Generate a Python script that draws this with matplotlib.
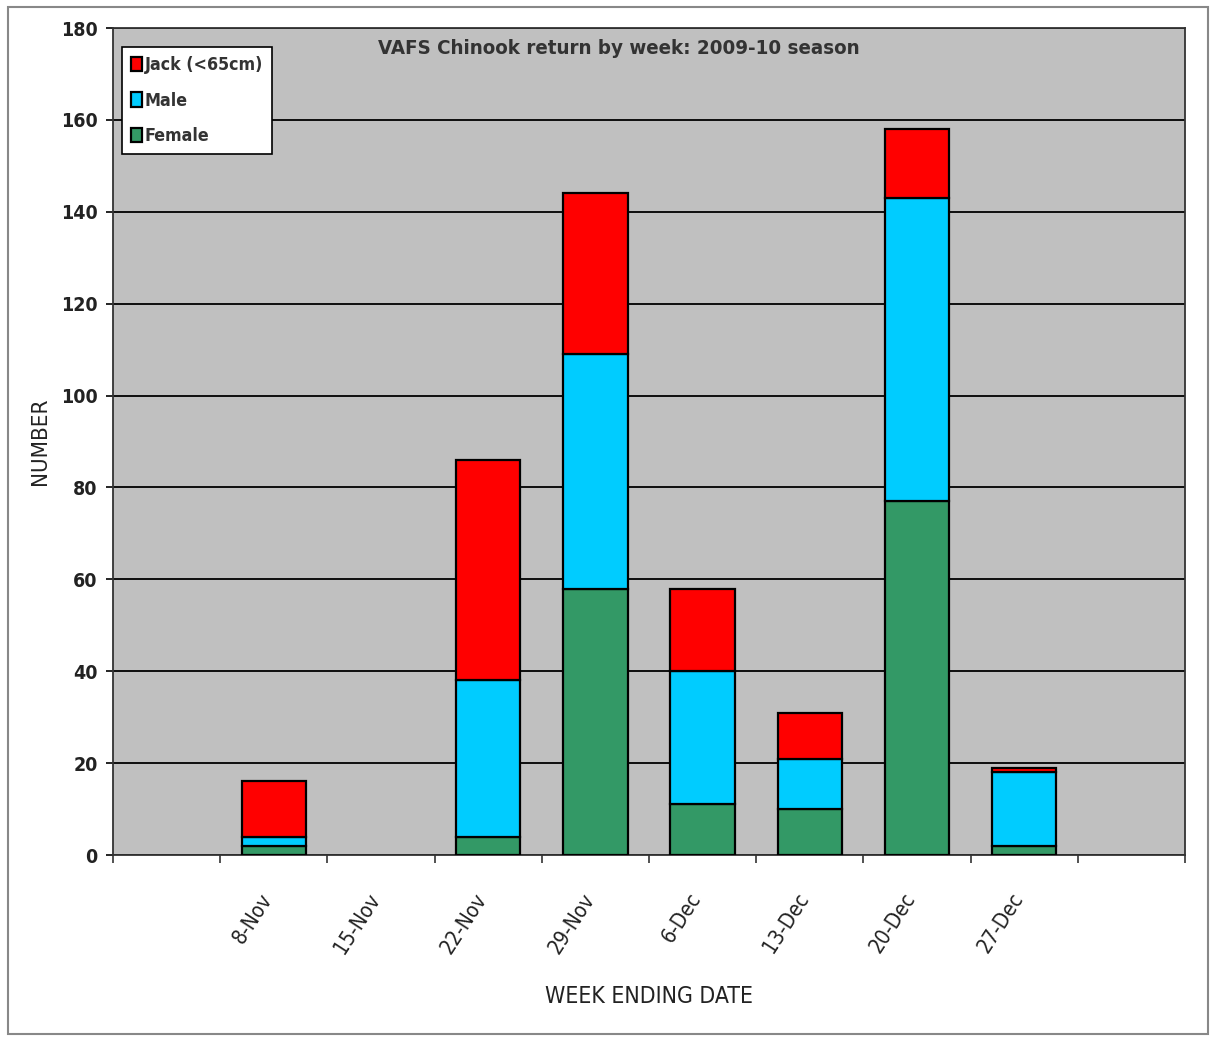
import matplotlib
matplotlib.use("Agg")
import matplotlib.pyplot as plt
from matplotlib.patches import Rectangle
from matplotlib.transforms import ScaledTranslation
import numpy as np

plt.rcParams['font.family'] = ['DejaVu Sans']
plt.rcParams['font.stretch'] = 'condensed'

weeks = ['', '8-Nov', '15-Nov', '22-Nov', '29-Nov', '6-Dec', '13-Dec', '20-Dec', '27-Dec', '']
female = [0, 2, 0, 4, 58, 11, 10, 77, 2, 0]
male = [0, 2, 0, 34, 51, 29, 11, 66, 16, 0]
jack = [0, 12, 0, 48, 35, 18, 10, 15, 1, 0]
y_ticks = [0, 20, 40, 60, 80, 100, 120, 140, 160, 180]

fig = plt.figure(figsize=(12.13, 10.38), dpi=100)
fig.patches.append(Rectangle((0.007, 0.004), 0.989, 0.989, transform=fig.transFigure,
                             fill=False, edgecolor='#888888', linewidth=1.5))
ax = fig.add_axes([0.0932, 0.1763, 0.8837, 0.7967])
ax.set_facecolor('#C0C0C0')

x = np.arange(len(weeks))
f = np.array(female)
m = np.array(male)
j = np.array(jack)
has = (f + m + j) > 0
kw = dict(width=0.6, edgecolor='black', linewidth=1.6, zorder=3)
ax.bar(x[has], f[has], color='#339966', label='Female', **kw)
ax.bar(x[has], m[has], bottom=f[has], color='#00CCFF', label='Male', **kw)
ax.bar(x[has], j[has], bottom=(f + m)[has], color='#FF0000', label='Jack (<65cm)', **kw)

ax.set_xlim(-0.5, len(weeks) - 0.5)
ax.set_ylim(0, 180)
ax.set_yticks(y_ticks)
ax.yaxis.grid(True, color='black', linewidth=1.3, zorder=0)
ax.set_axisbelow(True)

ax.set_xticks(x)
ax.set_xticklabels(weeks, rotation=57, ha='right', rotation_mode='anchor', fontsize=15,
                   color='#222222')
ax.tick_params(axis='x', which='major', length=0, pad=27)
ax.set_xticks(np.arange(-0.5, len(weeks)), minor=True)
ax.tick_params(axis='x', which='minor', length=6, width=1.2, color='#333333', direction='out')
ax.tick_params(axis='y', labelsize=14, length=5, width=1.2, direction='out', labelcolor='#222222',
               pad=6)
for t in ax.get_yticklabels():
    t.set_fontweight('bold')

for s in ax.spines.values():
    s.set_color('#333333')
    s.set_linewidth(1.3)

ax.text(0.472, 0.987, 'VAFS Chinook return by week: 2009-10 season', transform=ax.transAxes,
        ha='center', va='top', fontsize=14.7, fontweight='bold', color='#333333')
ax.set_ylabel('NUMBER', fontsize=16, labelpad=8, color='#222222')
ax.set_xlabel('WEEK ENDING DATE', fontsize=16.5, labelpad=20, color='#222222')

handles, labels = ax.get_legend_handles_labels()
leg = ax.legend(handles[::-1], labels[::-1], loc='upper left', bbox_to_anchor=(0.008, 0.977),
                borderaxespad=0, frameon=True, fancybox=False, edgecolor='black',
                facecolor='white', framealpha=1,
                handlelength=0.65, handleheight=0.85, handletextpad=0.15,
                labelspacing=1.0, borderpad=0.5, prop={'weight': 'bold', 'size': 12.8})
leg.get_frame().set_linewidth(1.2)
for t in leg.get_texts():
    t.set_color('#333333')

# nudge the rotated date labels so their ends sit under the bar centres
fig.canvas.draw()
shift = ScaledTranslation(-0.14, 0.03, fig.dpi_scale_trans)
for tick in ax.xaxis.get_major_ticks():
    tick.label1.set_transform(tick.label1.get_transform() + shift)

fig.savefig('out.png', dpi=100)
